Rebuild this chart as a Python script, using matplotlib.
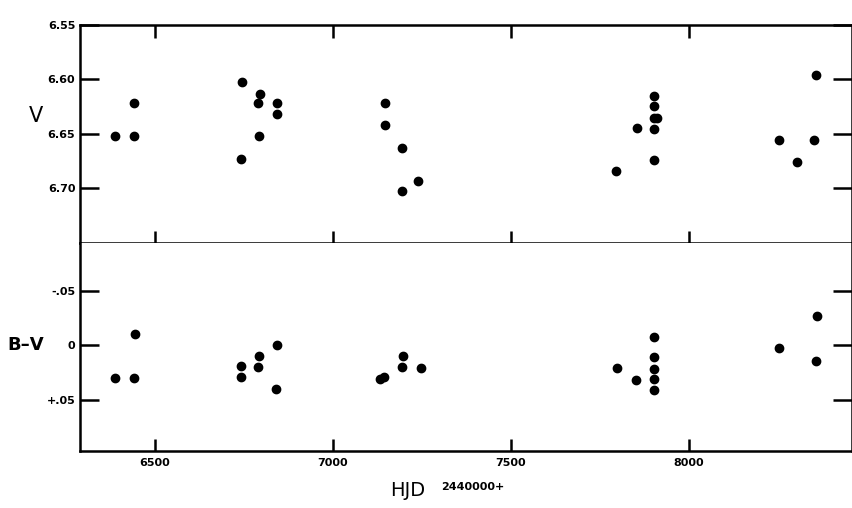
import numpy as np
import matplotlib
matplotlib.use("Agg")
import matplotlib.pyplot as plt

# V light curve (HJD - 2440000)
hjd_v = [6387, 6442, 6440,
         6744, 6743, 6796, 6790, 6794, 6843, 6844,
         7147, 7146, 7196, 7195, 7241,
         7797, 7854, 7903, 7903, 7902, 7912, 7903, 7902,
         8254, 8304, 8354, 8359]
v_mag = [6.652, 6.622, 6.652,
         6.602, 6.673, 6.613, 6.622, 6.652, 6.622, 6.632,
         6.622, 6.642, 6.663, 6.702, 6.693,
         6.684, 6.645, 6.615, 6.624, 6.635, 6.635, 6.646, 6.674,
         6.656, 6.676, 6.656, 6.596]

# B-V colour
hjd_bv = [6388, 6442, 6445,
          6743, 6742, 6792, 6791, 6842, 6840,
          7132, 7144, 7197, 7196, 7247,
          7798, 7853, 7903, 7903, 7903, 7903, 7903,
          8253, 8360, 8357]
bv = [0.030, 0.030, -0.010,
      0.019, 0.029, 0.010, 0.020, 0.000, 0.040,
      0.031, 0.029, 0.010, 0.020, 0.021,
      0.021, 0.032, -0.008, 0.011, 0.022, 0.031, 0.041,
      0.002, -0.027, 0.014]

xticks = [6500, 7000, 7500, 8000]
vticks = [6.55, 6.60, 6.65, 6.70]
vlabels = ["6.55", "6.60", "6.65", "6.70"]
bvticks = [-0.05, 0.0, 0.05]
bvlabels = ["-.05", "0", "+.05"]

fig = plt.figure(figsize=(8.53, 5.08), dpi=100)
ax1 = fig.add_axes([0.094, 0.522, 0.905, 0.429])
ax2 = fig.add_axes([0.094, 0.112, 0.905, 0.410], sharex=ax1)

ax1.plot(hjd_v, v_mag, "k.", marker="o", ms=6, ls="none")
ax2.plot(hjd_bv, bv, "k.", marker="o", ms=6, ls="none")

ax1.set_xlim(6290, 8460)
ax1.set_ylim(6.75, 6.55)
ax2.set_ylim(0.097, -0.094)

for ax in (ax1, ax2):
    for s in ax.spines.values():
        s.set_linewidth(1.8)
    ax.set_xticks(xticks)
    ax.tick_params(axis="x", direction="in", length=9, width=1.8,
                   top=True, bottom=True)
    ax.tick_params(axis="y", direction="in", length=14, width=1.8,
                   left=True, right=True)
    ax.tick_params(labelsize=8)

ax2.spines["top"].set_visible(False)
ax2.tick_params(axis="x", top=False)

ax1.set_yticks(vticks)
ax1.set_yticklabels(vlabels, fontweight="bold")
ax1.tick_params(labelbottom=False)
ax2.set_yticks(bvticks)
ax2.set_yticklabels(bvlabels, fontweight="bold")
ax2.set_xticklabels([str(t) for t in xticks], fontweight="bold")
ax2.tick_params(axis="x", pad=5)

fig.text(0.042, 0.772, "V", fontsize=15, ha="center", va="center")
fig.text(0.030, 0.32, "B\u2013V", fontsize=13, fontweight="bold",
         ha="center", va="center")
fig.text(0.478, 0.035, "HJD", fontsize=14, ha="center", va="center")
fig.text(0.517, 0.042, "2440000+", fontsize=8, fontweight="bold",
         ha="left", va="center")

plt.savefig("out.png", dpi=100)
